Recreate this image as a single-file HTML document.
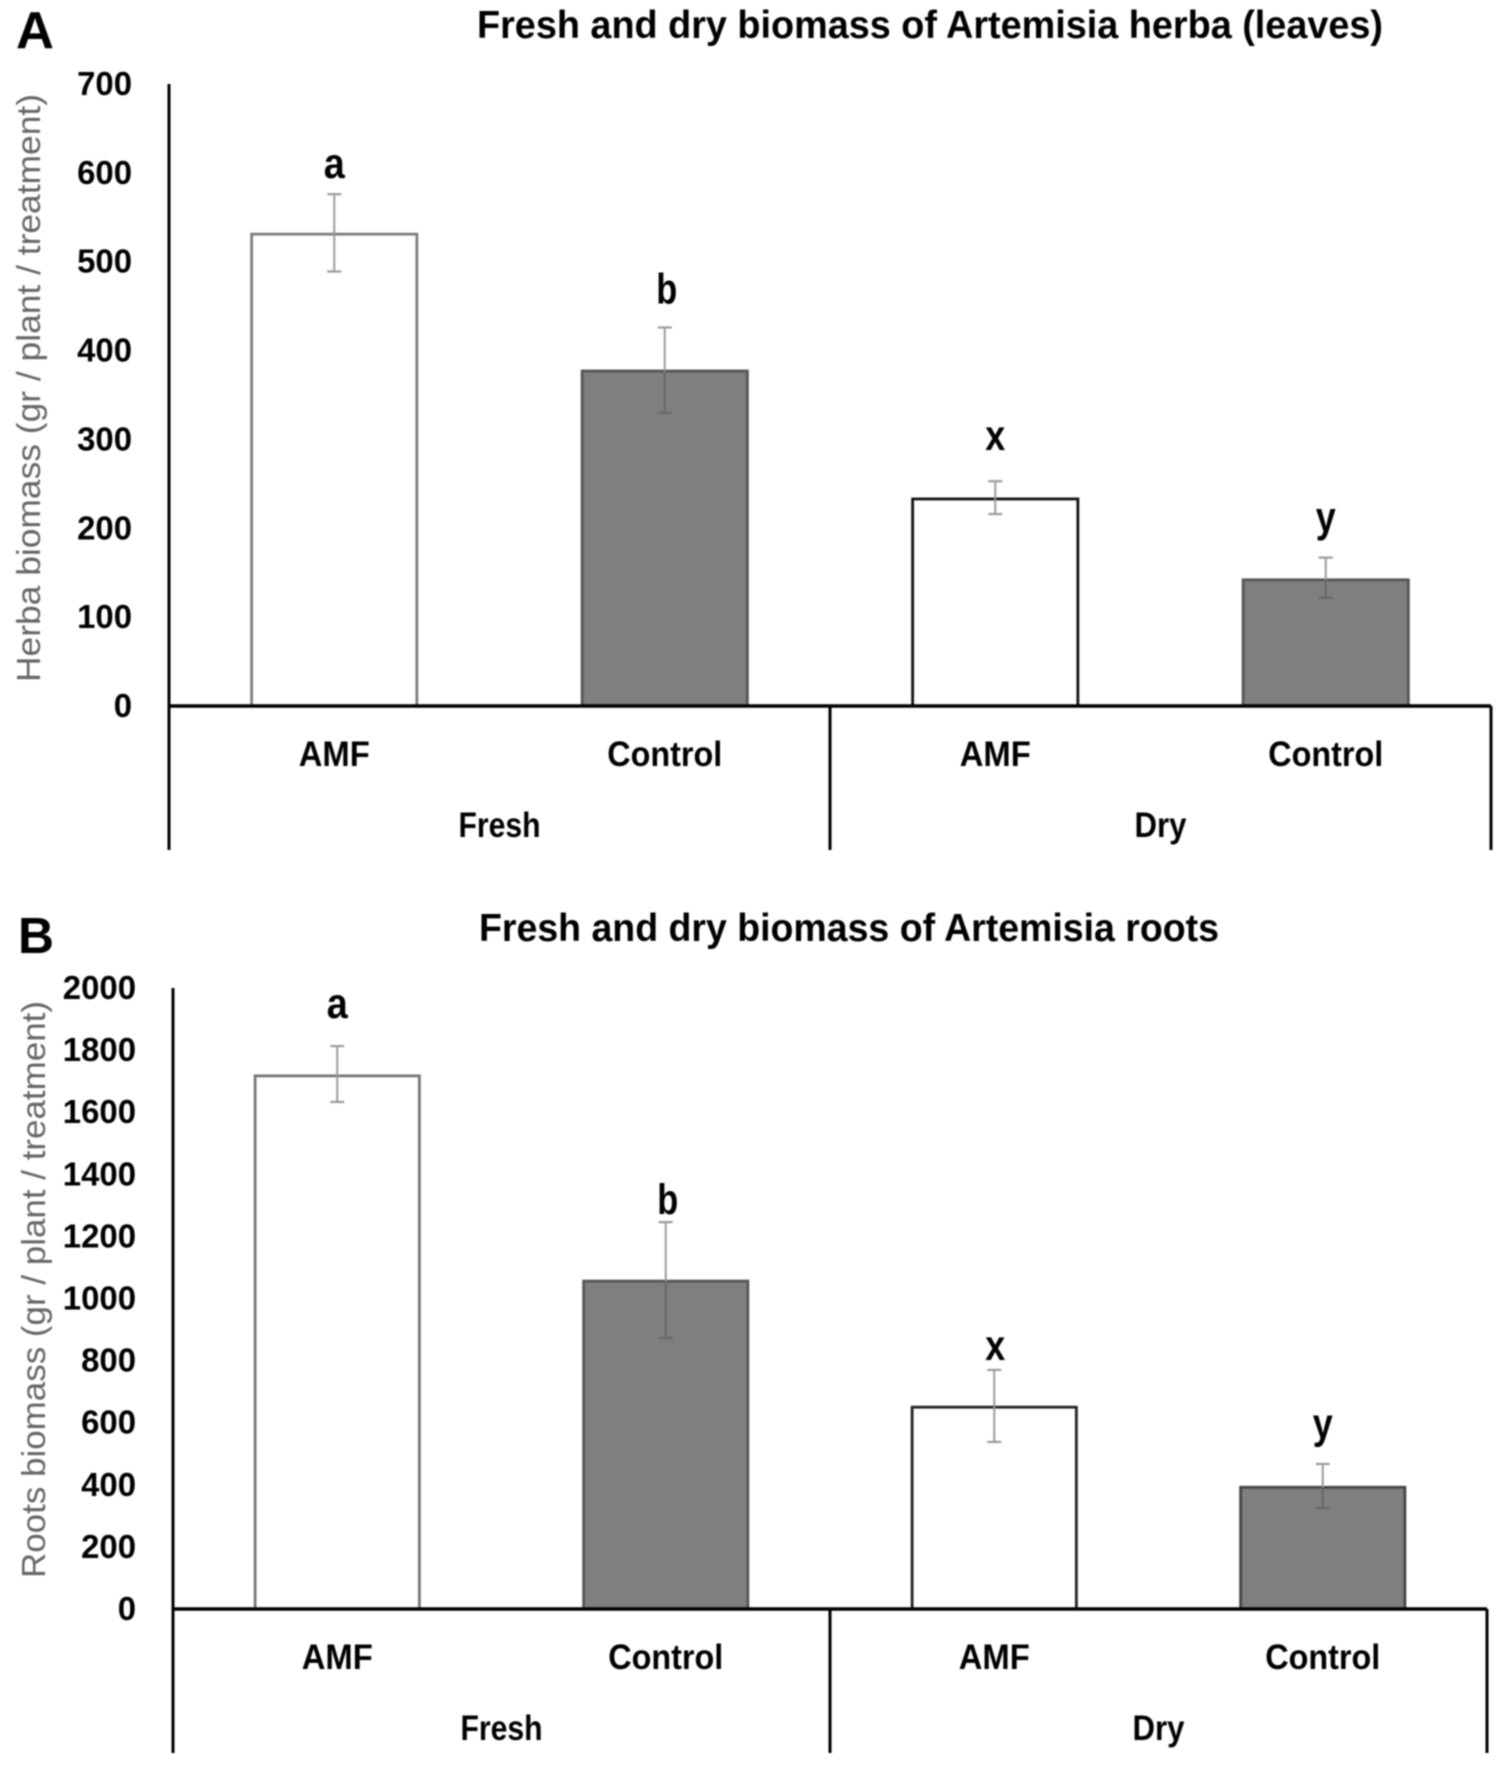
<!DOCTYPE html>
<html lang="en">
<head>
<meta charset="utf-8">
<title>Fresh and dry biomass of Artemisia</title>
<style>
  html, body { margin: 0; padding: 0; background: #fff; width: 1500px; height: 1768px; overflow: hidden; }
  svg { display: block; filter: blur(0.7px); }
  text { font-family: "Liberation Sans", sans-serif; fill: #000; }
  .bold { font-weight: 700; }
</style>
</head>
<body>
<svg id="figure" xmlns="http://www.w3.org/2000/svg" width="1500" height="1768" viewBox="0 0 1500 1768">
  <rect x="0" y="0" width="1500" height="1768" fill="#fff"/>
  <text class="bold" x="16" y="48" font-size="52" textLength="38" lengthAdjust="spacingAndGlyphs">A</text>
  <text class="bold" x="18" y="953" font-size="51" textLength="36" lengthAdjust="spacingAndGlyphs">B</text>
  <text class="bold" x="477" y="38" font-size="39" textLength="906" lengthAdjust="spacingAndGlyphs">Fresh and dry biomass of Artemisia herba (leaves)</text>
  <text class="bold" x="479" y="941" font-size="39" textLength="740" lengthAdjust="spacingAndGlyphs">Fresh and dry biomass of Artemisia roots</text>
  <text transform="translate(40 682) rotate(-90)" font-size="33" style="fill:#666" textLength="588" lengthAdjust="spacingAndGlyphs">Herba biomass (gr / plant / treatment)</text>
  <text transform="translate(45 1578) rotate(-90)" font-size="33" style="fill:#666" textLength="577" lengthAdjust="spacingAndGlyphs">Roots biomass (gr / plant / treatment)</text>
  <g id="chart-a"></g>
  <g id="chart-b"></g>
</svg>
<script>
// ---- Chart A data: herba (leaves) ----
const aCategories = ["AMF", "Control", "AMF", "Control"];
const aGroups = ["Fresh", "Dry"];
const aMeans = [531, 377, 233, 142];
const aErrHigh = [576, 426, 253, 167];
const aErrLow = [489, 330, 216, 122];
const aLetters = ["a", "b", "x", "y"];
const aTickLabels = [0, 100, 200, 300, 400, 500, 600, 700];

// ---- Chart B data: roots ----
const bCategories = ["AMF", "Control", "AMF", "Control"];
const bGroups = ["Fresh", "Dry"];
const bMeans = [1717, 1056, 650, 392];
const bErrHigh = [1813, 1246, 770, 467];
const bErrLow = [1633, 873, 538, 325];
const bLetters = ["a", "b", "x", "y"];
const bTickLabels = [0, 200, 400, 600, 800, 1000, 1200, 1400, 1600, 1800, 2000];

// Per-bar look, keyed by bar position
const barFills = ["#ffffff", "#7f7f7f", "#ffffff", "#7f7f7f"];
const aBarStrokes = ["#7d7d7d", "#555555", "#111111", "#555555"];
const bBarStrokes = ["#757575", "#555555", "#222222", "#444444"];
const labelWidths = { AMF: 71, Control: 115, Fresh: 82, Dry: 52 };

const NS = "http://www.w3.org/2000/svg";

function make(parent, tag, attrs, content) {
  const el = document.createElementNS(NS, tag);
  for (const k in attrs) el.setAttribute(k, attrs[k]);
  if (content !== undefined) el.textContent = content;
  parent.appendChild(el);
  return el;
}

function drawChart(cfg) {
  const root = document.getElementById(cfg.id);
  const maxTick = cfg.ticks[cfg.ticks.length - 1];
  const minTick = cfg.ticks[0];
  const yScale = v => cfg.y0 - (v - minTick) / (maxTick - minTick) * (cfg.y0 - cfg.yTop);
  const band = (cfg.right - cfg.left) / cfg.categories.length;
  const xScale = i => cfg.left + (i + 0.5) * band;
  const barW = band * 0.5;

  // Tick labels
  cfg.ticks.forEach(t => {
    const label = String(t);
    const el = make(root, "text", {
      class: "bold",
      x: cfg.left - 37,
      y: yScale(t) + 11,
      "font-size": 33,
      "text-anchor": "end",
      textLength: label.length * 18.3,
      lengthAdjust: "spacingAndGlyphs"
    }, label);
    
    
  });

  // Bars, error bars and significance letters
  cfg.means.forEach((m, i) => {
    const cx = xScale(i);
    const top = yScale(m);
    const bar = make(root, "rect", {
      x: cx - barW / 2, y: top, width: barW, height: cfg.y0 - top,
      fill: barFills[i], stroke: cfg.strokes[i], "stroke-width": 2.8
    });
    
    

    const hi = yScale(cfg.errHigh[i]);
    const lo = yScale(cfg.errLow[i]);
    const dark = barFills[i] !== "#ffffff";
    const upper = make(root, "line", {
      x1: cx, x2: cx, y1: hi, y2: top, stroke: "#9a9a9a", "stroke-width": 2
    });
    
    
    const lower = make(root, "line", {
      x1: cx, x2: cx, y1: top, y2: lo, stroke: dark ? "#686868" : "#9a9a9a", "stroke-width": 2
    });
    
    
    const capHi = make(root, "line", {
      x1: cx - 7, x2: cx + 7, y1: hi, y2: hi, stroke: "#9a9a9a", "stroke-width": 2.2
    });
    
    
    const capLo = make(root, "line", {
      x1: cx - 7, x2: cx + 7, y1: lo, y2: lo, stroke: dark ? "#686868" : "#9a9a9a", "stroke-width": 2.2
    });
    
    

    const letter = make(root, "text", {
      class: "bold", x: cx + cfg.letterShift[i], y: hi - cfg.letterGap[i], "font-size": 43, "text-anchor": "middle",
      textLength: cfg.letters[i] === "b" || cfg.letters[i] === "a" ? 21 : 20, lengthAdjust: "spacingAndGlyphs"
    }, cfg.letters[i]);
    
    

    const cat = make(root, "text", {
      class: "bold", x: cx, y: cfg.y0 + 60, "font-size": 35, "text-anchor": "middle",
      textLength: labelWidths[cfg.categories[i]], lengthAdjust: "spacingAndGlyphs"
    }, cfg.categories[i]);
    
    
  });

  // Group labels
  cfg.groups.forEach((g, i) => {
    const el = make(root, "text", {
      class: "bold", x: cfg.left + (i * 2 + 1) * band, y: cfg.y0 + 131, "font-size": 35,
      "text-anchor": "middle", textLength: labelWidths[g], lengthAdjust: "spacingAndGlyphs"
    }, g);
    
    
  });

  // Axes
  const yAxis = make(root, "line", {
    x1: cfg.left, x2: cfg.left, y1: cfg.yTop, y2: cfg.y0 + 144, stroke: "#000", "stroke-width": 3
  });
  
  
  const xAxis = make(root, "line", {
    x1: cfg.left, x2: cfg.right, y1: cfg.y0, y2: cfg.y0, stroke: "#000", "stroke-width": 3.4
  });
  
  
  const divider = make(root, "line", {
    x1: cfg.left + band * 2, x2: cfg.left + band * 2, y1: cfg.y0, y2: cfg.y0 + 144, stroke: "#000", "stroke-width": 3
  });
  
  
  const rightEdge = make(root, "line", {
    x1: cfg.right, x2: cfg.right, y1: cfg.y0, y2: cfg.y0 + 144, stroke: "#000", "stroke-width": 3
  });
  
  
}

drawChart({
  id: "chart-a", left: 169, right: 1491, y0: 706, yTop: 84,
  categories: aCategories, groups: aGroups, means: aMeans, errHigh: aErrHigh, errLow: aErrLow,
  letters: aLetters, ticks: aTickLabels, strokes: aBarStrokes, letterGap: [16, 24, 31, 26], letterShift: [0, 2, 0, 0]
});

drawChart({
  id: "chart-b", left: 173, right: 1487, y0: 1609, yTop: 988,
  categories: bCategories, groups: bGroups, means: bMeans, errHigh: bErrHigh, errLow: bErrLow,
  letters: bLetters, ticks: bTickLabels, strokes: bBarStrokes, letterGap: [28, 8, 10, 26], letterShift: [0, 2, 1, 0]
});
</script>
</body>
</html>
